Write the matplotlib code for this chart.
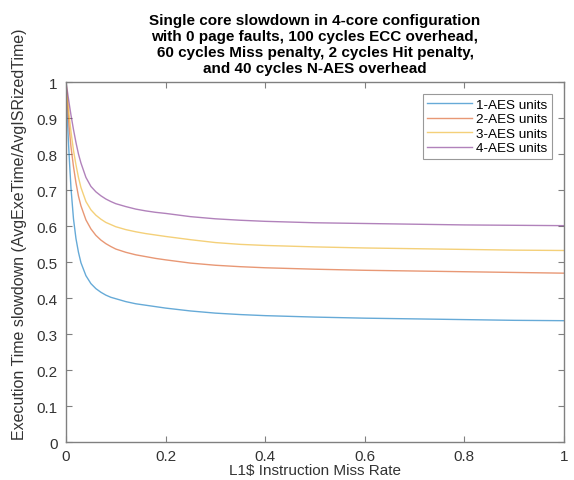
import matplotlib.pyplot as plt
from matplotlib.ticker import FuncFormatter

plt.rcParams['font.family'] = ['Liberation Sans', 'DejaVu Sans']

miss_rate = [0, 0.0025, 0.005, 0.0075, 0.01, 0.015, 0.02, 0.025, 0.03, 0.04,
             0.05, 0.06, 0.07, 0.08, 0.09, 0.1, 0.12, 0.14, 0.16, 0.18, 0.2,
             0.25, 0.3, 0.35, 0.4, 0.5, 0.6, 0.7, 0.8, 0.9, 1.0]

aes1 = [1.0, 0.905, 0.83, 0.765, 0.705, 0.62, 0.565, 0.527, 0.498, 0.462,
        0.440, 0.426, 0.416, 0.408, 0.402, 0.398, 0.390, 0.384, 0.380, 0.376, 0.372,
        0.364, 0.358, 0.354, 0.351, 0.347, 0.344, 0.342, 0.340, 0.338, 0.337]
aes2 = [1.0, 0.945, 0.897, 0.855, 0.82, 0.765, 0.72, 0.683, 0.656, 0.617,
        0.592, 0.574, 0.561, 0.551, 0.543, 0.536, 0.527, 0.520, 0.515, 0.510, 0.506,
        0.497, 0.491, 0.487, 0.484, 0.480, 0.477, 0.475, 0.473, 0.471, 0.469]
aes3 = [1.0, 0.962, 0.927, 0.893, 0.862, 0.81, 0.77, 0.735, 0.707, 0.668,
        0.645, 0.630, 0.619, 0.610, 0.604, 0.598, 0.590, 0.584, 0.579, 0.575, 0.571,
        0.562, 0.554, 0.549, 0.546, 0.542, 0.539, 0.537, 0.535, 0.533, 0.532]
aes4 = [1.0, 0.977, 0.953, 0.93, 0.908, 0.868, 0.832, 0.80, 0.775, 0.735,
        0.71, 0.695, 0.684, 0.675, 0.668, 0.662, 0.654, 0.647, 0.642, 0.638, 0.635,
        0.626, 0.620, 0.616, 0.613, 0.609, 0.607, 0.605, 0.603, 0.602, 0.601]

series = [aes1, aes2, aes3, aes4]
labels = ['1-AES units', '2-AES units', '3-AES units', '4-AES units']
colors = ['#0072BD', '#D95319', '#EDB120', '#7E2F8E']

fig = plt.figure(figsize=(5.74, 4.81), dpi=100)
ax = fig.add_axes([0.115, 0.079, 0.8676, 0.7484])

for ys, lab, c in zip(series, labels, colors):
    ax.plot(miss_rate, ys, color=c, lw=1.0, alpha=0.6, label=lab)

ax.set_xlim(0, 1)
ax.set_ylim(0, 1)
ax.set_xticks([0, 0.2, 0.4, 0.6, 0.8, 1])
ax.set_yticks([i / 10 for i in range(11)])
fmt = FuncFormatter(lambda v, p: '%g' % round(v, 2))
ax.xaxis.set_major_formatter(fmt)
ax.yaxis.set_major_formatter(fmt)

axcol = '#808080'
for s in ax.spines.values():
    s.set_color(axcol)
    s.set_linewidth(1.0)
ax.tick_params(direction='in', length=4, width=0.8, color=axcol,
               labelcolor='#333333', labelsize=11, top=True, right=True)
ax.tick_params(axis='x', pad=5)
ax.tick_params(axis='y', pad=6)

ax.set_xlabel('L1$ Instruction Miss Rate', fontsize=11, color='#333333', labelpad=0)
ax.set_ylabel('Execution Time slowdown (AvgExeTime/AvgISRizedTime)', fontsize=11.5,
              color='#333333')
ax.yaxis.set_label_coords(-0.078, 0.58)

ax.set_title('Single core slowdown in 4-core configuration\n'
             'with 0 page faults, 100 cycles ECC overhead,\n'
             '60 cycles Miss penalty, 2 cycles Hit penalty,\n'
             'and 40 cycles N-AES overhead',
             fontsize=11, fontweight='bold', linespacing=1.2, pad=7)

leg = ax.legend(loc='upper right', bbox_to_anchor=(0.976, 0.967), fontsize=9.7,
                frameon=True, fancybox=False, handlelength=3.3, handletextpad=0.3,
                labelspacing=0.15, borderpad=0.35, borderaxespad=0)
leg.get_frame().set_edgecolor(axcol)
leg.get_frame().set_linewidth(0.8)

fig.savefig('out.png', dpi=100)
